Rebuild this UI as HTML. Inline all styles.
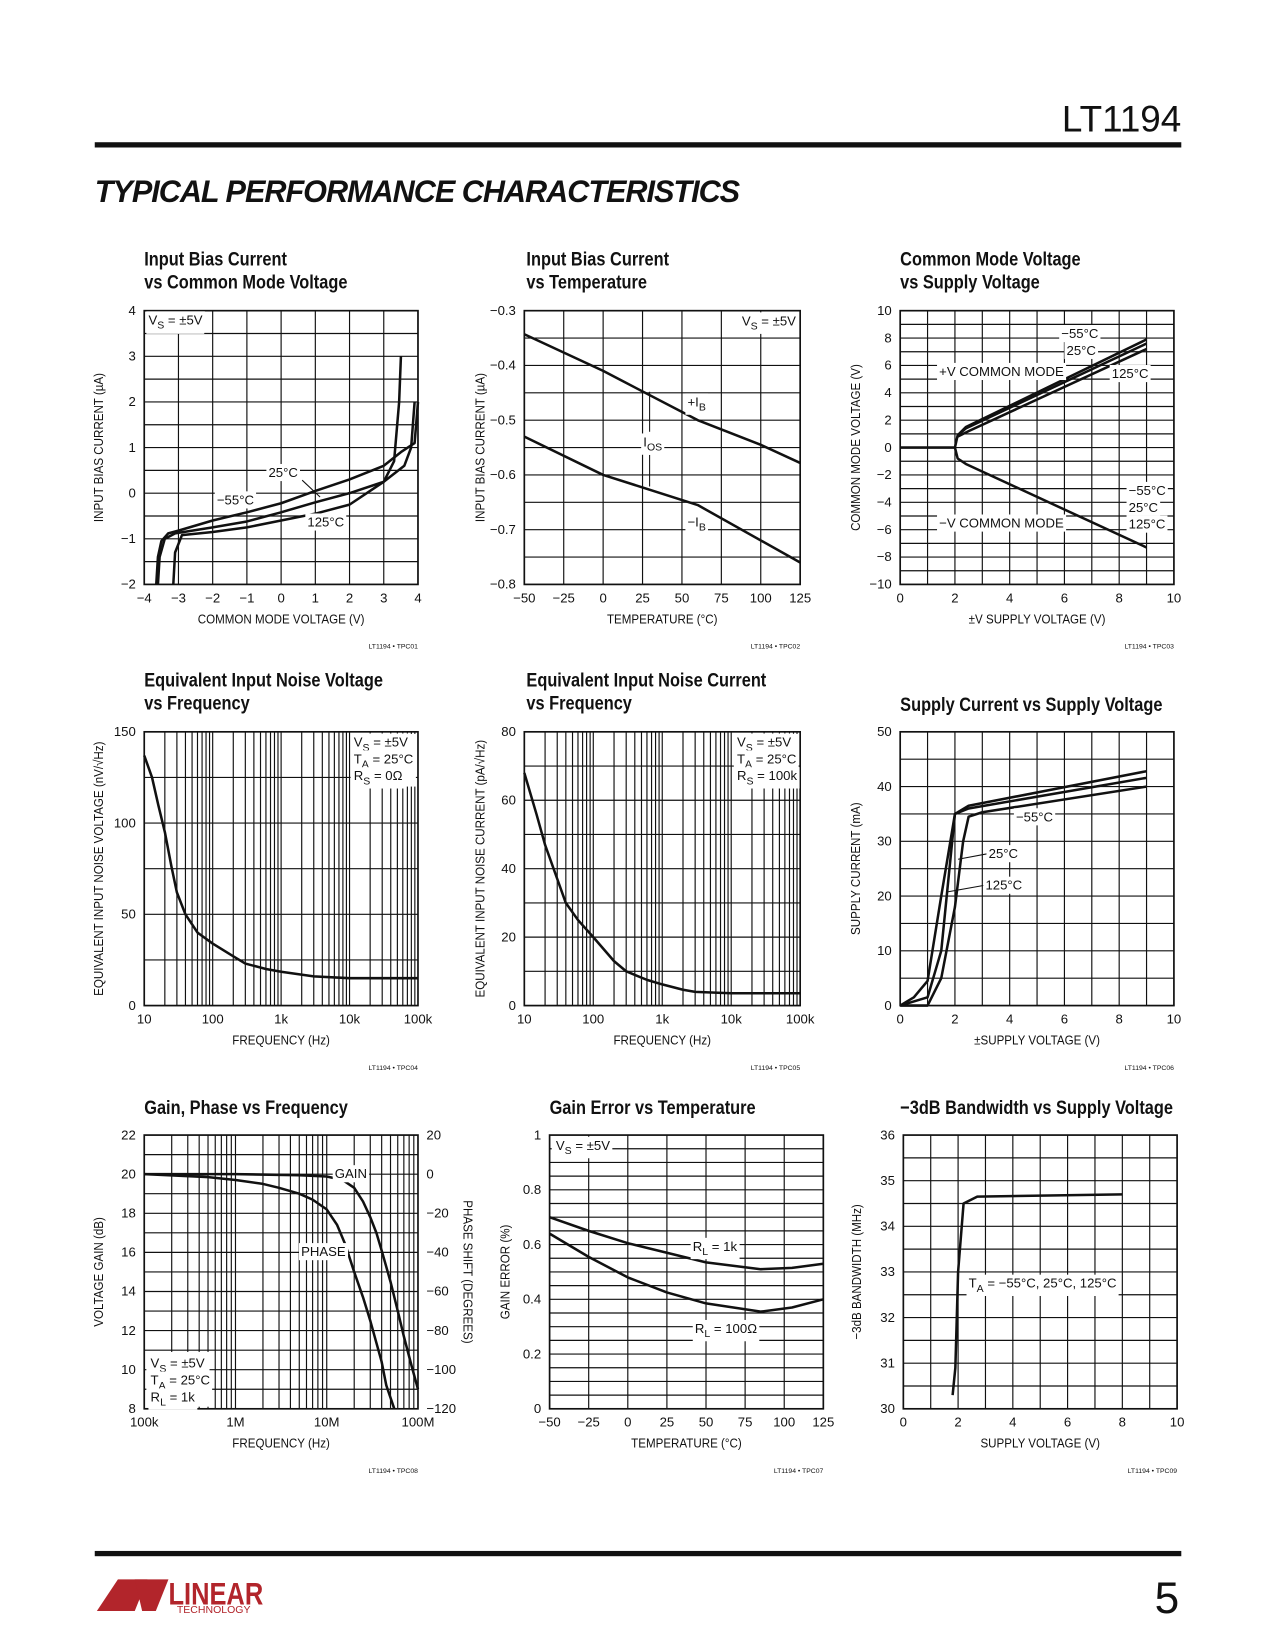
<!DOCTYPE html>
<html><head><meta charset="utf-8"><style>
html,body{margin:0;padding:0;background:#fff}
svg{display:block}
text{font-family:"Liberation Sans Narrow","Liberation Sans",sans-serif;fill:#111}
.tk{font-size:12.5px}
.ttl{font-size:18.5px;font-weight:bold}
.code{font-size:6.5px}
</style></head><body>
<svg id="pg" width="1275" height="1650" viewBox="0 0 1211 1567" xmlns="http://www.w3.org/2000/svg">
<text x="1122" y="125" text-anchor="end" style="font-size:35px;font-family:'Liberation Sans',sans-serif;font-weight:300">LT1194</text>
<rect x="90" y="135" width="1032" height="5" fill="#111"/>
<text x="90" y="192" style="font-size:30px;font-weight:900;font-style:italic;font-family:'Liberation Sans',sans-serif;letter-spacing:-1px" textLength="612" lengthAdjust="spacingAndGlyphs">TYPICAL PERFORMANCE CHARACTERISTICS</text>
<rect x="90" y="1473" width="1032" height="5" fill="#111"/>
<text x="1120" y="1532" text-anchor="end" style="font-size:42px;font-family:'Liberation Sans',sans-serif;font-weight:300">5</text>
<g>
<path d="M92 1530 L112 1500 L140 1500 L128 1530 Z" fill="#b2252b"/>
<path d="M128 1500 L160 1500 L148 1530 L135 1530 Z" fill="#b2252b"/>
<text x="160" y="1524" style="font-size:30px;font-weight:bold;font-family:'Liberation Sans',sans-serif;fill:#b2252b" textLength="90" lengthAdjust="spacingAndGlyphs">LINEAR</text>
<text x="168" y="1532" style="font-size:10px;font-family:'Liberation Sans',sans-serif;fill:#b2252b">TECHNOLOGY</text>
</g>
<g id="charts"></g>
</svg>
<script>
// ---------- data ----------
const c1Xticks=[-4,-3,-2,-1,0,1,2,3,4];
const c1Yticks=[-2,-1,0,1,2,3,4];
const c1_m55=[[-3.65,-2],[-3.6,-1.4],[-3.5,-1.05],[-3.3,-0.88],[-3,-0.82],[-2,-0.6],[-1,-0.42],[0,-0.22],[1,0.05],[2,0.3],[3,0.6],[3.5,0.9],[3.9,1.1],[4,2]];
const c1_25=[[-3.6,-2],[-3.55,-1.4],[-3.4,-1.0],[-3.1,-0.88],[-2,-0.75],[-1,-0.62],[0,-0.42],[1,-0.2],[2,0.0],[3,0.25],[3.3,0.7],[3.45,2],[3.5,3]];
const c1_125=[[-3.15,-2],[-3.1,-1.3],[-2.9,-0.92],[-2,-0.85],[-1,-0.75],[0,-0.6],[1,-0.45],[2,-0.25],[3,0.25],[3.6,0.6],[3.8,1.0],[3.9,2]];
const c2Xticks=[-50,-25,0,25,50,75,100,125];
const c2Yticks=[-0.8,-0.7,-0.6,-0.5,-0.4,-0.3];
const c2_pIB=[[-50,-0.343],[0,-0.41],[60,-0.5],[100,-0.545],[125,-0.578]];
const c2_nIB=[[-50,-0.53],[0,-0.6],[60,-0.655],[125,-0.76]];
const c3Xticks=[0,2,4,6,8,10];
const c3Yticks=[-10,-8,-6,-4,-2,0,2,4,6,8,10];
const c3_pos55=[[0,0],[2,0],[2.1,0.9],[2.4,1.5],[9,7.9]];
const c3_pos25=[[2.1,0.9],[2.4,1.4],[9,7.6]];
const c3_pos125=[[2.1,0.8],[2.5,1.2],[9,7.2]];
const c3_neg=[[2,0],[2.1,-0.8],[2.4,-1.2],[9,-7.3]];
const c4Xticks=[10,100,1000,10000,100000];
const c4Xlabels=["10","100","1k","10k","100k"];
const c4Yticks=[0,50,100,150];
const c4_noise=[[10,137],[13,125],[16,110],[20,95],[25,76],[30,62],[40,50],[60,40],[100,34],[200,27],[300,23],[600,20],[1000,18.5],[3000,16],[10000,15],[100000,15]];
const c5Yticks=[0,20,40,60,80];
const c5_noise=[[10,68],[15,56],[20,47],[30,37],[40,30],[60,25],[100,20],[200,13],[300,10],[600,7.5],[1000,6.2],[2000,4.6],[3000,4],[10000,3.6],[100000,3.6]];
const c6Xticks=[0,2,4,6,8,10];
const c6Yticks=[0,10,20,30,40,50];
const c6_a=[[0,0],[0.5,1.5],[1,4.5],[1.5,20],[2,35],[2.5,36.5],[9,42.8]];
const c6_b=[[0,0],[1,1.5],[1.5,10],[1.8,25],[2,35],[2.5,36],[9,41.6]];
const c6_c=[[0,0],[1,0],[1.5,5],[2,18],[2.3,30],[2.5,34.5],[3,35.3],[9,40]];
const c7Xticks=[1e5,1e6,1e7,1e8];
const c7Xlabels=["100k","1M","10M","100M"];
const c7Yticks=[8,10,12,14,16,18,20,22];
const c7Y2ticks=[20,0,-20,-40,-60,-80,-100,-120];
const c7_gain=[[1e5,20],[1e6,20],[5e6,19.95],[1e7,19.88],[1.5e7,19.7],[2e7,19.3],[2.5e7,18.6],[3e7,17.8],[3.5e7,17],[4e7,16.1],[5e7,14.5],[6e7,13],[7e7,11.7],[8.5e7,10.2],[1e8,9]];
const c7_phase=[[1e5,0],[5e5,-1.5],[1e6,-3],[2e6,-5],[3e6,-7],[5e6,-10],[7e6,-13],[1e7,-18],[1.3e7,-26],[1.6e7,-36],[2e7,-50],[2.5e7,-63],[3e7,-75],[4e7,-96],[4.5e7,-108],[5.5e7,-120]];
const c8Xticks=[-50,-25,0,25,50,75,100,125];
const c8Yticks=[0,0.2,0.4,0.6,0.8,1.0];
const c8_1k=[[-50,0.7],[-25,0.65],[0,0.605],[25,0.57],[50,0.535],[85,0.51],[105,0.515],[125,0.53]];
const c8_100=[[-50,0.64],[-25,0.555],[0,0.48],[25,0.425],[50,0.385],[85,0.355],[105,0.37],[125,0.4]];
const c9Xticks=[0,2,4,6,8,10];
const c9Yticks=[30,31,32,33,34,35,36];
const c9_bw=[[1.8,30.3],[1.9,30.9],[2.0,33],[2.2,34.5],[2.7,34.65],[8,34.7]];

// ---------- drawing ----------
const NS="http://www.w3.org/2000/svg";
const root=document.getElementById('charts');
function el(tag,attrs,parent,txt){const e=document.createElementNS(NS,tag);for(const k in attrs)e.setAttribute(k,attrs[k]);if(txt!==undefined)e.textContent=txt;(parent||root).appendChild(e);return e;}
function squeeze(t,f){const w=t.getComputedTextLength();if(w>0){t.setAttribute('textLength',(w*f).toFixed(1));t.setAttribute('lengthAdjust','spacingAndGlyphs');}}
function mk(o){
 const g=el('g',{});
 
 
 const sx=o.log?(v=>o.x0+(Math.log10(v)-Math.log10(o.xmin))/(Math.log10(o.xmax)-Math.log10(o.xmin))*(o.x1-o.x0)):(v=>o.x0+(v-o.xmin)/(o.xmax-o.xmin)*(o.x1-o.x0));
 const sy=v=>o.y1-(v-o.ymin)/(o.ymax-o.ymin)*(o.y1-o.y0);
 const gr=el('g',{stroke:'#111','stroke-width':1.1,fill:'none'},g);
 
 
 if(o.log){for(let d=o.xmin;d<o.xmax;d*=10){for(let m=1;m<=9;m++){const x=sx(d*m);el('line',{x1:x,x2:x,y1:o.y0,y2:o.y1},gr);}}}
 else{for(let v=o.xmin;v<=o.xmax+1e-9;v+=o.xg){const x=sx(v);el('line',{x1:x,x2:x,y1:o.y0,y2:o.y1},gr);}}
 for(let v=o.ymin;v<=o.ymax+1e-9;v+=o.yg){const y=sy(v);el('line',{x1:o.x0,x2:o.x1,y1:y,y2:y},gr);}
 el('rect',{x:o.x0,y:o.y0,width:o.x1-o.x0,height:o.y1-o.y0,stroke:'#111','stroke-width':1.6,fill:'none'},g);
 o.xt.forEach((v,i)=>{const t=el('text',{x:sx(v),y:o.y1+17,'text-anchor':'middle',class:'tk'},g,o.xl?o.xl[i]:fmt(v));});
 o.yt.forEach(v=>{const t=el('text',{x:o.x0-8,y:sy(v)+4,'text-anchor':'end',class:'tk'},g,fmt(v));});
 const tl=el('text',{x:o.tx,y:o.t2?o.y0-43:o.y0-20,class:'ttl'},g,o.t1);squeeze(tl,0.84);
 if(o.t2){const t2=el('text',{x:o.tx,y:o.y0-21,class:'ttl'},g,o.t2);squeeze(t2,0.84);}
 const xa=el('text',{x:(o.x0+o.x1)/2,y:o.y1+37,'text-anchor':'middle',class:'tk'},g,o.xlab);squeeze(xa,0.88);
 const ya=el('text',{x:0,y:0,'text-anchor':'middle',class:'tk',transform:`translate(${o.yx},${(o.y0+o.y1)/2}) rotate(-90)`},g,o.ylab);squeeze(ya,0.88);
 const cd=el('text',{x:o.x1,y:o.y1+61,'text-anchor':'end',class:'code'},g,o.code);
 return {g,sx,sy};
}
function fmt(v){return (Math.abs(v)<1e-9?'0':String(+v.toFixed(2))).replace('-','\u2212');}
function line(c,data,name,sy2){const sy=sy2||c.sy;let d='';data.forEach((p,i)=>{d+=(i?'L':'M')+c.sx(p[0]).toFixed(1)+' '+sy(p[1]).toFixed(1);});
 const p=el('path',{d,fill:'none',stroke:'#111','stroke-width':2.4,'stroke-linejoin':'round'},c.g);
 }
function lab(c,x,y,txt,name,anchor){
 const bg=el('rect',{fill:'#fff'},c.g);
 const t=el('text',{x,y,class:'tk','text-anchor':anchor||'start'},c.g);t.innerHTML=txt;
 const b=t.getBBox();bg.setAttribute('x',b.x-2);bg.setAttribute('y',b.y-1);bg.setAttribute('width',b.width+4);bg.setAttribute('height',b.height+2);
 return t;}
function box(c,x,y,w,h){el('rect',{x,y,width:w,height:h,fill:'#fff'},c.g);}
const sub=s=>`<tspan dy="4" font-size="10">${s}</tspan><tspan dy="-4"> </tspan>`;

// Chart 1
let c=mk({name:'chart-bias-vs-cm',x0:137,x1:397,y0:295,y1:555,xmin:-4,xmax:4,ymin:-2,ymax:4,xg:1,yg:0.5,xt:c1Xticks,yt:c1Yticks,tx:137,t1:'Input Bias Current',t2:'vs Common Mode Voltage',xlab:'COMMON MODE VOLTAGE (V)',ylab:'INPUT BIAS CURRENT (\u00b5A)',yx:98,code:'LT1194 \u2022 TPC01'});
box(c,139,297,55,20);lab(c,141,308,'V'+sub('S')+'= \u00b15V','annotation-vs');
line(c,c1_m55,'series-minus55c');line(c,c1_25,'series-25c');line(c,c1_125,'series-125c');
el('line',{x1:287,y1:456,x2:304,y2:472,stroke:'#111','stroke-width':1},c.g);
lab(c,255,453,'25\u00b0C','label-25c');lab(c,206,479,'\u221255\u00b0C','label-minus55c');lab(c,292,500,'125\u00b0C','label-125c');

// Chart 2
c=mk({name:'chart-bias-vs-temp',x0:498,x1:760,y0:295,y1:555,xmin:-50,xmax:125,ymin:-0.8,ymax:-0.3,xg:25,yg:0.05,xt:c2Xticks,yt:c2Yticks,tx:500,t1:'Input Bias Current',t2:'vs Temperature',xlab:'TEMPERATURE (\u00b0C)',ylab:'INPUT BIAS CURRENT (\u00b5A)',yx:460,code:'LT1194 \u2022 TPC02'});
box(c,700,297,58,20);lab(c,756,309,'V'+sub('S')+'= \u00b15V','annotation-vs','end');
line(c,c2_pIB,'series-plus-ib');line(c,c2_nIB,'series-minus-ib');
el('line',{x1:617,y1:372,x2:617,y2:410,stroke:'#111','stroke-width':1},c.g);el('line',{x1:617,y1:432,x2:617,y2:462,stroke:'#111','stroke-width':1},c.g);
lab(c,653,386,'+I'+sub('B'),'label-plus-ib');lab(c,653,500,'\u2212I'+sub('B'),'label-minus-ib');lab(c,611,424,'I'+sub('OS'),'label-ios');

// Chart 3
c=mk({name:'chart-cm-vs-supply',x0:855,x1:1115,y0:295,y1:555,xmin:0,xmax:10,ymin:-10,ymax:10,xg:1,yg:1,xt:c3Xticks,yt:c3Yticks,tx:855,t1:'Common Mode Voltage',t2:'vs Supply Voltage',xlab:'\u00b1V SUPPLY VOLTAGE (V)',ylab:'COMMON MODE VOLTAGE (V)',yx:817,code:'LT1194 \u2022 TPC03'});
line(c,c3_pos55,'series-pos-minus55c');line(c,c3_pos25,'series-pos-25c');line(c,c3_pos125,'series-pos-125c');line(c,c3_neg,'series-neg');
lab(c,892,357,'+V COMMON MODE','label-pos-cm');lab(c,892,501,'\u2212V COMMON MODE','label-neg-cm');
lab(c,1008,321,'\u221255\u00b0C','label-minus55c');lab(c,1013,337,'25\u00b0C','label-25c');lab(c,1056,359,'125\u00b0C','label-125c');
lab(c,1072,470,'\u221255\u00b0C','label-neg-minus55c');lab(c,1072,486,'25\u00b0C','label-neg-25c');lab(c,1072,502,'125\u00b0C','label-neg-125c');

// Chart 4
c=mk({name:'chart-noise-voltage',x0:137,x1:397,y0:695,y1:955,xmin:10,xmax:100000,ymin:0,ymax:150,log:true,yg:25,xt:c4Xticks,xl:c4Xlabels,yt:c4Yticks,tx:137,t1:'Equivalent Input Noise Voltage',t2:'vs Frequency',xlab:'FREQUENCY (Hz)',ylab:'EQUIVALENT INPUT NOISE VOLTAGE (nV/\u221aHz)',yx:98,code:'LT1194 \u2022 TPC04'});
box(c,333,697,62,50);lab(c,336,709,'V'+sub('S')+'= \u00b15V','annotation-vs');lab(c,336,725,'T'+sub('A')+'= 25\u00b0C','annotation-ta');lab(c,336,741,'R'+sub('S')+'= 0\u03a9','annotation-rs');
line(c,c4_noise,'series-noise-voltage');

// Chart 5
c=mk({name:'chart-noise-current',x0:498,x1:760,y0:695,y1:955,xmin:10,xmax:100000,ymin:0,ymax:80,log:true,yg:10,xt:c4Xticks,xl:c4Xlabels,yt:c5Yticks,tx:500,t1:'Equivalent Input Noise Current',t2:'vs Frequency',xlab:'FREQUENCY (Hz)',ylab:'EQUIVALENT INPUT NOISE CURRENT (pA/\u221aHz)',yx:460,code:'LT1194 \u2022 TPC05'});
box(c,697,697,61,50);lab(c,700,709,'V'+sub('S')+'= \u00b15V','annotation-vs');lab(c,700,725,'T'+sub('A')+'= 25\u00b0C','annotation-ta');lab(c,700,741,'R'+sub('S')+'= 100k','annotation-rs');
line(c,c5_noise,'series-noise-current');

// Chart 6
c=mk({name:'chart-supply-current',x0:855,x1:1115,y0:695,y1:955,xmin:0,xmax:10,ymin:0,ymax:50,xg:1,yg:5,xt:c6Xticks,yt:c6Yticks,tx:855,t1:'Supply Current vs Supply Voltage',xlab:'\u00b1SUPPLY VOLTAGE (V)',ylab:'SUPPLY CURRENT (mA)',yx:817,code:'LT1194 \u2022 TPC06'});
line(c,c6_a,'series-125c');line(c,c6_b,'series-25c');line(c,c6_c,'series-minus55c');
el('line',{x1:937,y1:811,x2:910,y2:816,stroke:'#111','stroke-width':1},c.g);el('line',{x1:934,y1:841,x2:900,y2:847,stroke:'#111','stroke-width':1},c.g);
lab(c,965,780,'\u221255\u00b0C','label-minus55c');lab(c,939,815,'25\u00b0C','label-25c');lab(c,936,845,'125\u00b0C','label-125c');

// Chart 7
c=mk({name:'chart-gain-phase',x0:137,x1:397,y0:1078,y1:1338,xmin:1e5,xmax:1e8,ymin:8,ymax:22,log:true,yg:1,xt:c7Xticks,xl:c7Xlabels,yt:c7Yticks,tx:137,t1:'Gain, Phase vs Frequency',xlab:'FREQUENCY (Hz)',ylab:'VOLTAGE GAIN (dB)',yx:98,code:'LT1194 \u2022 TPC08'});
const sy2=v=>c.sy(20+v/10);
c7Y2ticks.forEach(v=>{const t=el('text',{x:405,y:sy2(v)+4,class:'tk'},c.g,fmt(v));});
const y2t=el('text',{x:0,y:0,'text-anchor':'middle',class:'tk',transform:'translate(440,1208) rotate(90)'},c.g,'PHASE SHIFT (DEGREES)');squeeze(y2t,0.88);
line(c,c7_gain,'series-gain');line(c,c7_phase,'series-phase',sy2);
box(c,139,1284,60,52);lab(c,143,1299,'V'+sub('S')+'= \u00b15V','annotation-vs');lab(c,143,1315,'T'+sub('A')+'= 25\u00b0C','annotation-ta');lab(c,143,1331,'R'+sub('L')+'= 1k','annotation-rl');
lab(c,318,1119,'GAIN','label-gain');lab(c,286,1193,'PHASE','label-phase');

// Chart 8
c=mk({name:'chart-gain-error',x0:522,x1:782,y0:1078,y1:1338,xmin:-50,xmax:125,ymin:0,ymax:1,xg:25,yg:0.05,xt:c8Xticks,yt:c8Yticks,tx:522,t1:'Gain Error vs Temperature',xlab:'TEMPERATURE (\u00b0C)',ylab:'GAIN ERROR (%)',yx:484,code:'LT1194 \u2022 TPC07'});
box(c,524,1080,56,20);lab(c,528,1092,'V'+sub('S')+'= \u00b15V','annotation-vs');
line(c,c8_1k,'series-rl-1k');line(c,c8_100,'series-rl-100');
lab(c,658,1188,'R'+sub('L')+'= 1k','label-rl-1k');lab(c,660,1266,'R'+sub('L')+'= 100\u03a9','label-rl-100');

// Chart 9
c=mk({name:'chart-bandwidth',x0:858,x1:1118,y0:1078,y1:1338,xmin:0,xmax:10,ymin:30,ymax:36,xg:1,yg:0.5,xt:c9Xticks,yt:c9Yticks,tx:855,t1:'\u22123dB Bandwidth vs Supply Voltage',xlab:'SUPPLY VOLTAGE (V)',ylab:'\u22123dB BANDWIDTH (MHz)',yx:818,code:'LT1194 \u2022 TPC09'});
line(c,c9_bw,'series-bandwidth');
lab(c,920,1223,'T'+sub('A')+'= \u221255\u00b0C, 25\u00b0C, 125\u00b0C','label-ta');
</script>
</body></html>
